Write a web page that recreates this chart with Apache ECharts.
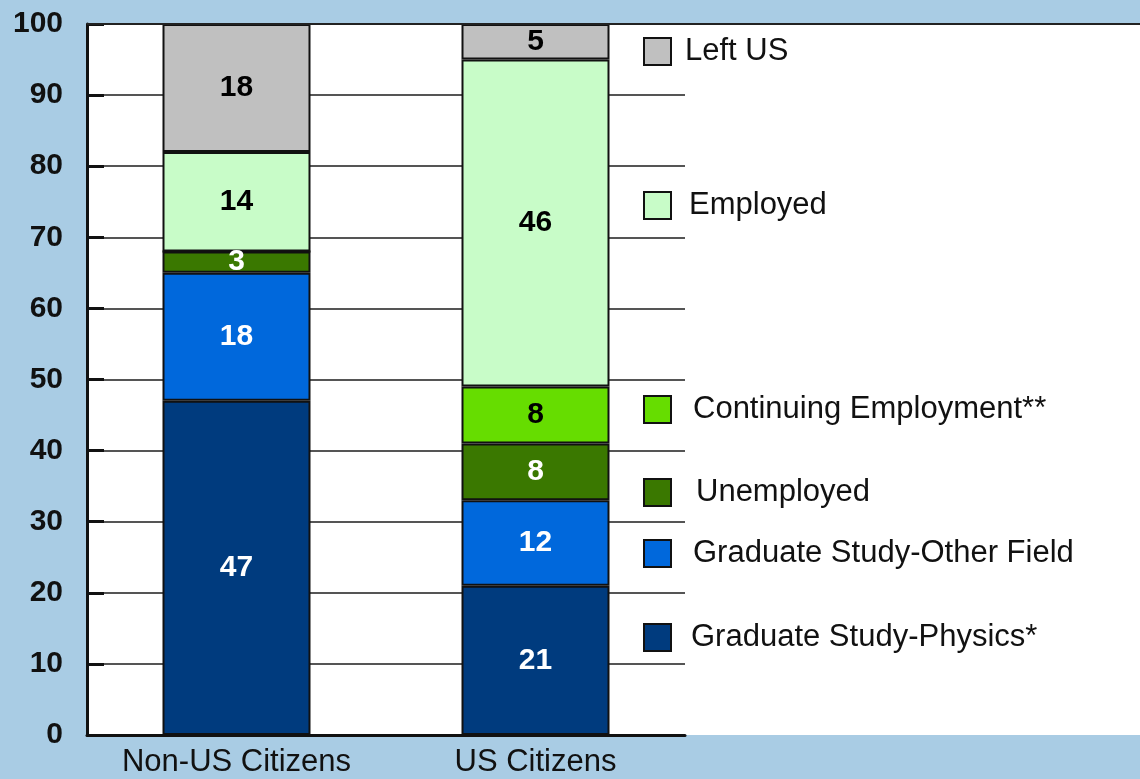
<!DOCTYPE html>
<html>
<head>
<meta charset="utf-8">
<script src="https://cdn.jsdelivr.net/npm/echarts@6/dist/echarts.min.js"></script>
<style>
  html, body { margin: 0; padding: 0; background: #a9cce4; }
  #chart { width: 1140px; height: 779px; }
</style>
</head>
<body>
<div id="chart"></div>
<script>
const categories = ['Non-US Citizens', 'US Citizens'];
const gradPhysics = [47, 21];
const gradOther = [18, 12];
const unemployed = [3, 8];
const continuing = [0, 8];
const employed = [14, 46];
const leftUS = [18, 5];

const font = '"Liberation Sans", Arial, sans-serif';

// name, data, colour, label colour, legend centre y, legend text x
const seriesDefs = [
  ['Graduate Study-Physics*', gradPhysics, '#003b7e', '#fff', 636, 690],
  ['Graduate Study-Other Field', gradOther, '#0068dc', '#fff', 552, 692],
  ['Unemployed', unemployed, '#3a7800', '#fff', 491, 695],
  ['Continuing Employment**', continuing, '#66dd00', '#000', 408, 692],
  ['Employed', employed, '#c8fcc8', '#000', 204, 688],
  ['Left US', leftUS, '#c0c0c0', '#000', 50, 684]
];

const series = seriesDefs.map(d => ({
  name: d[0],
  type: 'bar',
  stack: 'total',
  barWidth: 148,
  data: d[1],
  itemStyle: { color: d[2], borderColor: '#111', borderWidth: 2 },
  label: {
    show: true,
    position: 'inside',
    color: d[3],
    fontFamily: font,
    fontWeight: 'bold',
    fontSize: 30,
    formatter: p => (p.value ? p.value : '')
  }
}));

const legends = seriesDefs.map(d => ({
  data: [d[0]],
  left: 643,
  top: d[4] - 14,
  padding: 0,
  itemWidth: 27,
  itemHeight: 27,
  icon: 'rect',
  selectedMode: false,
  itemStyle: { borderColor: '#111', borderWidth: 2 },
  textStyle: {
    fontFamily: font,
    fontSize: 31,
    color: '#111',
    padding: [0, 0, 0, d[5] - 643 - 27 - 5]
  }
}));

const chart = echarts.init(document.getElementById('chart'));
chart.setOption({
  backgroundColor: '#a9cce4',
  animation: false,
  graphic: [
    { type: 'rect', z: -10, shape: { x: 87, y: 24, width: 1060, height: 711 }, style: { fill: '#fff' } },
    { type: 'line', z: 10, shape: { x1: 87, y1: 24, x2: 1140, y2: 24 }, style: { stroke: '#222', lineWidth: 2 } }
  ],
  grid: { left: 87, top: 24, right: 455, bottom: 44 },
  legend: legends,
  xAxis: {
    type: 'category',
    data: categories,
    axisLine: { lineStyle: { color: '#111', width: 3 } },
    axisTick: { inside: true, length: 15, lineStyle: { color: '#111', width: 2 } },
    axisLabel: { interval: 0, fontFamily: font, fontSize: 31, color: '#111', margin: 12 }
  },
  yAxis: {
    type: 'value',
    min: 0,
    max: 100,
    interval: 10,
    axisLine: { show: true, lineStyle: { color: '#111', width: 3 } },
    axisTick: { show: true, inside: true, length: 17, lineStyle: { color: '#111', width: 3 } },
    axisLabel: { fontFamily: font, fontSize: 30, fontWeight: 'bold', color: '#111', margin: 24 },
    splitLine: { lineStyle: { color: '#555', width: 2 } }
  },
  series: series
});
</script>
</body>
</html>
